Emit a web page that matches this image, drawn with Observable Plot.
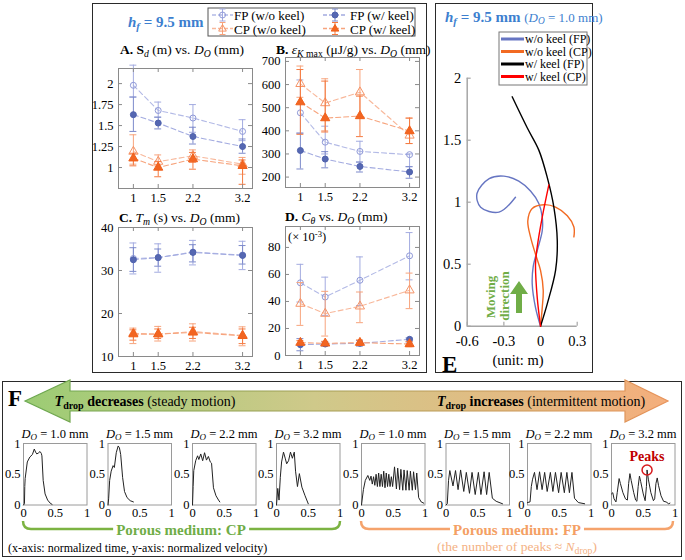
<!DOCTYPE html>
<html><head><meta charset="utf-8">
<script src="https://cdn.jsdelivr.net/npm/d3@7"></script>
<script src="https://cdn.jsdelivr.net/npm/@observablehq/plot@0.6"></script>
<style>
body{margin:0;background:#fff;}
#wrap{position:relative;width:685px;height:560px;overflow:hidden;font-family:"Liberation Serif","Times New Roman",serif;color:#000;background:#fff;}
.box{position:absolute;border:1.6px solid #2a2a2a;box-sizing:border-box;}
.t{position:absolute;white-space:nowrap;line-height:1;}
.t sub{font-size:0.72em;vertical-align:-0.3em;line-height:0;}
.t sup{font-size:0.68em;vertical-align:0.5em;line-height:0;}
.plot{position:absolute;left:0;top:0;}
#wrap svg text{font-family:"Liberation Serif","Times New Roman",serif !important;}
</style></head>
<body><div id="wrap"></div>
<script>
// ---------------- DATA ----------------
const DO = [1, 1.5, 2.2, 3.2];
const seriesNames = ["FP (w/o keel)", "CP (w/o keel)", "FP (w/ keel)", "CP (w/ keel)"];

// A. S_d (m)
const sdFPwo = [1.98, 1.68, 1.59, 1.43], sdFPwoLo = [1.84, 1.60, 1.42, 1.32], sdFPwoHi = [2.22, 1.78, 1.75, 1.57];
const sdCPwo = [1.19, 1.07, 1.14, 1.04], sdCPwoLo = [1.04, 1.02, 1.06, 0.92], sdCPwoHi = [1.39, 1.15, 1.21, 1.12];
const sdFPw  = [1.63, 1.53, 1.37, 1.25], sdFPwLo  = [1.43, 1.46, 1.28, 1.17], sdFPwHi  = [1.84, 1.60, 1.48, 1.34];
const sdCPw  = [1.11, 1.00, 1.10, 1.02], sdCPwLo  = [1.02, 0.89, 0.98, 0.80], sdCPwHi  = [1.17, 1.07, 1.18, 1.09];
const sdTicks = [1, 1.25, 1.5, 1.75, 2];

// B. eps_K max (uJ/g)
const ekFPwo = [478, 351, 311, 297], ekFPwoLo = [390, 300, 265, 245], ekFPwoHi = [620, 420, 355, 300];
const ekCPwo = [603, 520, 567, 380], ekCPwoLo = [545, 400, 455, 345], ekCPwoHi = [680, 625, 665, 455];
const ekFPw  = [315, 278, 246, 222], ekFPwLo  = [235, 240, 222, 195], ekFPwHi  = [390, 310, 265, 245];
const ekCPw  = [524, 455, 464, 399], ekCPwLo  = [385, 395, 375, 345], ekCPwHi  = [665, 615, 550, 455];
const ekTicks = [200, 300, 400, 500, 600, 700];

// C. T_m (s)
const tmFPwo = [32.8, 33.0, 34.3, 33.6], tmFPwoLo = [29.2, 29.6, 31.3, 30.2], tmFPwoHi = [36.4, 36.2, 37.0, 36.8];
const tmCPwo = [15.4, 15.2, 15.8, 14.9], tmCPwoLo = [13.0, 13.6, 13.6, 12.5], tmCPwoHi = [16.6, 17.0, 17.6, 16.9];
const tmFPw  = [32.5, 33.0, 34.2, 33.5], tmFPwLo  = [29.8, 31.0, 32.0, 31.5], tmFPwHi  = [35.3, 35.0, 36.0, 35.8];
const tmCPw  = [15.2, 15.2, 15.6, 14.8], tmCPwLo  = [13.8, 14.2, 14.2, 13.0], tmCPwHi  = [16.2, 16.4, 16.8, 16.4];
const tmTicks = [10, 20, 30, 40];

// D. C_theta (x 10^-3)
const ctFPwo = [53.8, 43.3, 55.7, 73.8], ctFPwoLo = [39.6, 29.7, 37.0, 56.0], ctFPwoHi = [67.5, 58.0, 73.0, 91.0];
const ctCPwo = [38.4, 31.0, 36.4, 48.3], ctCPwoLo = [22.3, 14.4, 24.3, 34.7], ctCPwoHi = [54.0, 47.5, 47.0, 61.0];
const ctFPw  = [8.0, 8.5, 9.0, 12.0],    ctFPwLo  = [3.5, 7.0, 7.0, 10.0],    ctFPwHi  = [12.5, 10.0, 11.0, 13.0];
const ctCPw  = [9.5, 9.0, 9.5, 8.5],     ctCPwLo  = [8.0, 7.5, 7.5, 6.5],     ctCPwHi  = [11.0, 10.5, 11.5, 10.5];
const ctTicks = [0, 20, 40, 60, 80];

// E. trajectories (m)
const trajNames = ["w/o keel (FP)", "w/o keel (CP)", "w/ keel (FP)", "w/ keel (CP)"];
const woFPx = [0, -0.041, -0.068, -0.060, -0.027, 0.014, 0.014, -0.014, -0.082, -0.178, -0.30, -0.42, -0.52, -0.49, -0.34, -0.205];
const woFPy = [0, 0.15, 0.34, 0.48, 0.61, 0.77, 0.88, 0.99, 1.09, 1.17, 1.21, 1.19, 1.07, 0.96, 0.92, 1.04];
const woCPx = [0, 0.014, 0.022, 0, -0.041, -0.082, -0.104, -0.068, 0.027, 0.123, 0.219, 0.273, 0.273];
const woCPy = [0, 0.15, 0.29, 0.45, 0.58, 0.72, 0.85, 0.95, 0.98, 0.96, 0.89, 0.80, 0.72];
const wFPx  = [0, 0.055, 0.123, 0.137, 0.109, 0.055, -0.014, -0.109, -0.232];
const wFPy  = [0, 0.18, 0.45, 0.69, 0.96, 1.20, 1.42, 1.60, 1.85];
const wCPx  = [0, -0.027, -0.041, -0.027, 0.014, 0.068];
const wCPy  = [0, 0.23, 0.50, 0.64, 0.88, 1.14];
const eXTicks = [-0.6, -0.3, 0, 0.3], eYTicks = [0, 0.5, 1, 1.5, 2];

// F. normalized velocity vs normalized time  [t, v]
const fTitles = ["1.0", "1.5", "2.2", "3.2", "1.0", "1.5", "2.2", "3.2"];
const cp10 = [[0,0],[0.015,0.02],[0.02,0.3],[0.026,0.43],[0.06,0.7],[0.1,0.78],[0.14,0.82],[0.17,0.91],[0.19,0.86],[0.21,0.83],[0.24,0.85],[0.26,0.87],[0.28,0.84],[0.29,0.8],[0.31,0.4],[0.34,0.18],[0.38,0.08],[0.42,0.03],[0.45,0.01]];
const cp15 = [[0,0],[0.01,0.1],[0.026,0.4],[0.05,0.55],[0.08,0.64],[0.1,0.61],[0.13,0.85],[0.16,0.96],[0.18,0.93],[0.2,0.82],[0.23,0.45],[0.26,0.22],[0.3,0.12],[0.35,0.07],[0.4,0.05]];
const cp22 = [[0,0],[0.01,0.3],[0.02,0.56],[0.05,0.72],[0.08,0.8],[0.1,0.74],[0.13,0.83],[0.16,0.72],[0.19,0.85],[0.22,0.73],[0.25,0.79],[0.28,0.7],[0.3,0.68],[0.33,0.28],[0.37,0.15],[0.41,0.08],[0.43,0.05]];
const cp32 = [[0,0],[0.02,0.27],[0.04,0.08],[0.06,0.45],[0.08,0.7],[0.11,0.86],[0.14,0.75],[0.16,0.67],[0.19,0.72],[0.22,0.86],[0.25,0.76],[0.28,0.86],[0.3,0.55],[0.33,0.3],[0.36,0.51],[0.4,0.29],[0.45,0.15],[0.5,0.02]];
const fp10 = [[0,0],[0.03,0.25],[0.06,0.4],[0.1,0.48],[0.13,0.4],[0.15,0.47],[0.17,0.34],[0.19,0.46],[0.21,0.32],[0.23,0.5],[0.25,0.3],[0.27,0.52],[0.29,0.3],[0.31,0.5],[0.33,0.3],[0.35,0.55],[0.37,0.28],[0.39,0.52],[0.41,0.3],[0.43,0.5],[0.45,0.3],[0.47,0.46],[0.49,0.3],[0.52,0.62],[0.55,0.26],[0.57,0.6],[0.6,0.25],[0.62,0.58],[0.65,0.24],[0.67,0.57],[0.7,0.24],[0.72,0.56],[0.75,0.24],[0.77,0.55],[0.8,0.24],[0.82,0.54],[0.85,0.25],[0.87,0.52],[0.9,0.12],[0.94,0.05],[0.98,0.03]];
const fp15 = [[0,0],[0.02,0.02],[0.04,0.4],[0.06,0.56],[0.11,0.31],[0.15,0.56],[0.19,0.25],[0.23,0.57],[0.28,0.22],[0.32,0.53],[0.37,0.19],[0.41,0.53],[0.46,0.17],[0.51,0.53],[0.55,0.17],[0.6,0.54],[0.64,0.17],[0.68,0.53],[0.73,0.11],[0.79,0.06],[0.89,0.02]];
const fp22 = [[0,0.04],[0.04,0.05],[0.06,0.3],[0.08,0.42],[0.11,0.53],[0.15,0.25],[0.19,0.54],[0.23,0.25],[0.27,0.53],[0.31,0.22],[0.36,0.53],[0.4,0.22],[0.44,0.53],[0.49,0.2],[0.53,0.53],[0.58,0.2],[0.62,0.53],[0.66,0.2],[0.7,0.53],[0.74,0.11],[0.8,0.04],[0.9,0.02]];
const fp32 = [[0,0.18],[0.02,0.2],[0.04,0.1],[0.07,0.05],[0.09,0.2],[0.12,0.43],[0.14,0.35],[0.18,0.2],[0.22,0.1],[0.25,0.08],[0.27,0.35],[0.29,0.51],[0.31,0.4],[0.35,0.2],[0.38,0.08],[0.4,0.06],[0.42,0.3],[0.44,0.47],[0.46,0.38],[0.5,0.18],[0.53,0.07],[0.55,0.3],[0.56,0.57],[0.58,0.42],[0.62,0.2],[0.66,0.07],[0.68,0.1],[0.7,0.35],[0.72,0.44],[0.74,0.32],[0.78,0.15],[0.82,0.06],[0.86,0.05],[0.9,0.02],[0.92,0.03]];
const fTicks = [0, 0.5, 1];

// ---------------- STYLE ----------------
const SERIF = '"Liberation Serif","Times New Roman",serif';
const wrap = document.getElementById("wrap");
const STY = {
  FPwo: {line:"#b3bae6", err:"#a3abe0", stroke:"#8f99d8", fill:"none", symbol:"circle", r:3},
  CPwo: {line:"#f8b89b", err:"#f7a47d", stroke:"#f59468", fill:"none", symbol:"triangle", r:3.4},
  FPw:  {line:"#a3abe0", err:"#7d8acb", stroke:"#4f62ad", fill:"#5567b2", symbol:"circle", r:3},
  CPw:  {line:"#f7a47d", err:"#f47a40", stroke:"#f0601a", fill:"#f26522", symbol:"triangle", r:3.4}
};
const X_DOM = [0.7, 3.4];
const GRID = "#8a8a8a";

function boxDiv(l, t, w, h) {
  const d = document.createElement("div"); d.className = "box";
  Object.assign(d.style, {left: l + "px", top: t + "px", width: w + "px", height: h + "px"});
  wrap.appendChild(d);
}
function addPlot(svg) { svg.classList.add("plot"); wrap.appendChild(svg); }
function baseStyle(fs) {
  return `position:absolute;left:0px;top:0px;background:transparent;font-family:${SERIF};font-size:${fs}px;overflow:visible;`;
}
function txt(html, x, y, o = {}) {
  const {anchor = "middle", size = 14, color = "#000", weight = "normal", bg = null, rotate = 0} = o;
  const d = document.createElement("div"); d.className = "t"; d.innerHTML = html;
  const tx = anchor === "middle" ? "-50%" : anchor === "end" ? "-100%" : "0";
  Object.assign(d.style, {left: x + "px", top: y + "px", fontSize: size + "px", color, fontWeight: weight,
    transform: `translate(${tx},-50%)` + (rotate ? ` rotate(${rotate}deg)` : "")});
  if (bg) { d.style.background = bg; d.style.padding = "0 3px"; }
  wrap.appendChild(d);
}

boxDiv(92, 3, 335, 370);
boxDiv(435, 3, 158, 370);
boxDiv(2, 381, 680, 176);

// ---------------- PANELS A-D ----------------
function errPanel(box, yDomain, yTicks, S) {
  const [l, t, r, b] = box; const W = r - l, H = b - t;
  const marks = [Plot.frame({stroke: GRID})];
  for (const s of S) {
    const st = STY[s.key];
    const rows = DO.map((x, i) => ({x, y: s.y[i], lo: s.lo[i], hi: s.hi[i], name: s.name}));
    marks.push(
      Plot.line(rows, {x: "x", y: "y", stroke: st.line, strokeWidth: 1.1, strokeDasharray: "5,3"}),
      Plot.ruleX(rows, {x: "x", y1: "lo", y2: "hi", stroke: st.err, strokeWidth: 1}),
      Plot.ruleY(rows, {y: "lo", x1: d => d.x - 0.07, x2: d => d.x + 0.07, stroke: st.err, strokeWidth: 1}),
      Plot.ruleY(rows, {y: "hi", x1: d => d.x - 0.07, x2: d => d.x + 0.07, stroke: st.err, strokeWidth: 1}),
      Plot.dot(rows, {x: "x", y: "y", symbol: st.symbol, r: st.r, fill: st.fill, stroke: st.stroke, strokeWidth: 1})
    );
  }
  marks.push(
    Plot.tickY(yTicks, {y: d => d, stroke: GRID, insetRight: W - 4}),
    Plot.tickY(yTicks, {y: d => d, stroke: GRID, insetLeft: W - 4}),
    Plot.tickX(DO, {x: d => d, stroke: GRID, insetTop: H - 4}),
    Plot.tickX(DO, {x: d => d, stroke: GRID, insetBottom: H - 4}),
    Plot.axisY({ticks: yTicks, tickSize: 0, tickPadding: 5, tickFormat: d => String(d), label: null}),
    Plot.axisX({ticks: DO, tickSize: 0, tickPadding: 5, tickFormat: d => String(d), label: null})
  );
  return Plot.plot({width: 685, height: 560, marginLeft: l, marginTop: t, marginRight: 685 - r, marginBottom: 560 - b,
    x: {domain: X_DOM}, y: {domain: yDomain}, style: baseStyle(12.5), marks});
}
function ser(key, y, lo, hi, name) { return {key, y, lo, hi, name}; }

addPlot(errPanel([118, 68, 252, 188], [0.75, 2.18], sdTicks, [
  ser("FPwo", sdFPwo, sdFPwoLo, sdFPwoHi, seriesNames[0]), ser("CPwo", sdCPwo, sdCPwoLo, sdCPwoHi, seriesNames[1]),
  ser("FPw", sdFPw, sdFPwLo, sdFPwHi, seriesNames[2]), ser("CPw", sdCPw, sdCPwLo, sdCPwHi, seriesNames[3])]));
addPlot(errPanel([285, 57, 419, 187], [155, 717], ekTicks, [
  ser("FPwo", ekFPwo, ekFPwoLo, ekFPwoHi, seriesNames[0]), ser("CPwo", ekCPwo, ekCPwoLo, ekCPwoHi, seriesNames[1]),
  ser("FPw", ekFPw, ekFPwLo, ekFPwHi, seriesNames[2]), ser("CPw", ekCPw, ekCPwLo, ekCPwHi, seriesNames[3])]));
addPlot(errPanel([118, 227, 252, 356], [10, 40], tmTicks, [
  ser("FPwo", tmFPwo, tmFPwoLo, tmFPwoHi, seriesNames[0]), ser("CPwo", tmCPwo, tmCPwoLo, tmCPwoHi, seriesNames[1]),
  ser("FPw", tmFPw, tmFPwLo, tmFPwHi, seriesNames[2]), ser("CPw", tmCPw, tmCPwLo, tmCPwHi, seriesNames[3])]));
addPlot(errPanel([285, 226, 419, 355], [0, 95.5], ctTicks, [
  ser("FPwo", ctFPwo, ctFPwoLo, ctFPwoHi, seriesNames[0]), ser("CPwo", ctCPwo, ctCPwoLo, ctCPwoHi, seriesNames[1]),
  ser("FPw", ctFPw, ctFPwLo, ctFPwHi, seriesNames[2]), ser("CPw", ctCPw, ctCPwLo, ctCPwHi, seriesNames[3])]));

// ---------------- PANEL E ----------------
(function () {
  const l = 466.7, t = 77.7, r = 576.7, b = 325.7; const W = r - l, H = b - t;
  const zip = (xs, ys, name) => xs.map((x, i) => ({x, y: ys[i], name}));
  const trajColors = ["#6675c2", "#f26a22", "#000000", "#ff0000"];
  const sets = [zip(woFPx, woFPy, trajNames[0]), zip(woCPx, woCPy, trajNames[1]), zip(wFPx, wFPy, trajNames[2]), zip(wCPx, wCPy, trajNames[3])];
  const marks = [
    Plot.ruleX([eXTicks[0]], {stroke: "#a6a6a6", strokeWidth: 1.5}),
    Plot.ruleY([eYTicks[0]], {stroke: "#a6a6a6", strokeWidth: 1.5}),
    Plot.tickY(eYTicks, {y: d => d, stroke: "#a6a6a6", strokeWidth: 1.2, insetRight: W - 4}),
    Plot.tickX(eXTicks, {x: d => d, stroke: "#a6a6a6", strokeWidth: 1.2, insetTop: H - 4}),
    ...sets.map((s, i) => Plot.line(s, {x: "x", y: "y", stroke: trajColors[i], strokeWidth: 1.4, curve: "catmull-rom"})),
    Plot.axisY({ticks: eYTicks, tickSize: 0, tickPadding: 6, tickFormat: d => String(d), label: null}),
    Plot.axisX({ticks: eXTicks, tickSize: 0, tickPadding: 10, tickFormat: d => String(d), label: null})
  ];
  addPlot(Plot.plot({width: 685, height: 560, marginLeft: l, marginTop: t, marginRight: 685 - r, marginBottom: 560 - b,
    x: {domain: [eXTicks[0], eXTicks[3]]}, y: {domain: [eYTicks[0], eYTicks[4]]}, style: baseStyle(14.5), marks}));
})();

// ---------------- PANEL F small plots ----------------
const fData = [cp10, cp15, cp22, cp32, fp10, fp15, fp22, fp32];
const fLefts = [23, 107.5, 192, 276, 361, 445.5, 527, 611];
fData.forEach((arr, k) => {
  const l = fLefts[k], r = l + 63.5, t = 443, b = 504.5;
  const rows = arr.map(([tt, v]) => ({t: tt, v}));
  const marks = [
    Plot.frame({stroke: "#9a9a9a"}),
    Plot.line(rows, {x: "t", y: "v", stroke: "#222", strokeWidth: 1}),
    Plot.axisY({ticks: fTicks, tickSize: 0, tickPadding: 3, tickFormat: d => String(d), label: null}),
    Plot.axisX({ticks: fTicks, tickSize: 0, tickPadding: 3, tickFormat: d => String(d), label: null})
  ];
  if (k === 7) {
    const pk = d3.greatest(rows, d => d.v);
    marks.push(Plot.dot([pk], {x: "t", y: "v", r: 5, stroke: "#d7191c", strokeWidth: 1.5, fill: "none"}));
  }
  addPlot(Plot.plot({width: 685, height: 560, marginLeft: l, marginTop: t, marginRight: 685 - r, marginBottom: 560 - b,
    x: {domain: [0, 1]}, y: {domain: [0, 1]}, style: baseStyle(12.5), marks}));
});

// ---------------- DECORATIONS (legend swatches, arrows, brackets) ----------------
function legendSwatch(x, cy, w, st) {
  const m = x + w / 2;
  let s = `<line x1="${x}" y1="${cy}" x2="${x + w}" y2="${cy}" stroke="${st.line}" stroke-width="1.3" stroke-dasharray="4,2"/>`;
  s += `<line x1="${m}" y1="${cy - 6}" x2="${m}" y2="${cy + 6}" stroke="${st.err}"/>`;
  s += `<line x1="${m - 3}" y1="${cy - 6}" x2="${m + 3}" y2="${cy - 6}" stroke="${st.err}"/>`;
  s += `<line x1="${m - 3}" y1="${cy + 6}" x2="${m + 3}" y2="${cy + 6}" stroke="${st.err}"/>`;
  if (st.symbol === "circle") s += `<circle cx="${m}" cy="${cy}" r="3" fill="${st.fill}" stroke="${st.stroke}"/>`;
  else s += `<polygon points="${m},${cy - 4} ${m - 3.8},${cy + 2.6} ${m + 3.8},${cy + 2.6}" fill="${st.fill}" stroke="${st.stroke}"/>`;
  return s;
}
const trajLegColors = ["#6675c2", "#f26a22", "#000000", "#ff0000"];
let deco = `<svg width="685" height="560" style="position:absolute;left:0;top:0;overflow:visible">
<defs>
<linearGradient id="ga" x1="0" x2="1" y1="0" y2="0">
<stop offset="0" stop-color="#9ccc74"/><stop offset="0.45" stop-color="#cfc98a"/><stop offset="1" stop-color="#f4ae7c"/></linearGradient>
<linearGradient id="gs" x1="0" x2="1" y1="0" y2="0">
<stop offset="0" stop-color="#6aa84f"/><stop offset="1" stop-color="#e8935a"/></linearGradient>
</defs>
<rect x="208" y="8" width="207" height="28" fill="#fff" stroke="#555" stroke-width="1"/>
${legendSwatch(212, 15, 21, STY.FPwo)}${legendSwatch(212, 28.5, 21, STY.CPwo)}
${legendSwatch(323, 15, 24, STY.FPw)}${legendSwatch(323, 28.5, 24, STY.CPw)}
<rect x="499" y="32" width="88" height="53" fill="#fff" stroke="#777" stroke-width="1"/>
${[39, 51.5, 64, 76.5].map((y, i) => `<line x1="501" x2="524" y1="${y}" y2="${y}" stroke="${trajLegColors[i]}" stroke-width="3"/>`).join("")}
<polygon points="519,281 528,294 522,294 522,313 516,313 516,294 510,294" fill="#70ad47"/>
<polygon points="25,401 70,380 70,391 625,391 625,380 668,401 625,422 625,411 70,411 70,422" fill="url(#ga)" stroke="url(#gs)" stroke-width="1.2"/>
<path d="M23,521 Q23,529 31,529 L332,529 Q340,529 340,521" fill="none" stroke="#7cb342" stroke-width="2.5"/>
<path d="M361,521 Q361,529 369,529 L665,529 Q673,529 673,521" fill="none" stroke="#f5a36c" stroke-width="2.5"/>
</svg>`;
const decoDiv = document.createElement("div");
decoDiv.innerHTML = deco;
wrap.appendChild(decoDiv);

// ---------------- TEXT ----------------
const DOh = `<i>D</i><sub><i>O</i></sub>`;
txt(`<i>h</i><sub><i>f</i></sub> = 9.5 mm`, 128, 22, {anchor: "start", size: 15, color: "#3d7fcf", weight: "bold"});
txt(seriesNames[0], 234, 15, {anchor: "start", size: 13});
txt(seriesNames[1], 234, 28.5, {anchor: "start", size: 13});
txt(seriesNames[2], 350, 15, {anchor: "start", size: 13});
txt(seriesNames[3], 350, 28.5, {anchor: "start", size: 13});

txt(`<b>A.</b> <b>S</b><sub><i>d</i></sub> (m) vs. ${DOh} (mm)`, 120, 50, {anchor: "start", size: 13.5});
txt(`<b>B.</b> <i>ε</i><sub><i>K</i> max</sub> (μJ/g) vs. ${DOh} (mm)`, 276, 50, {anchor: "start", size: 13.5});
txt(`<b>C.</b> <i>T</i><sub><i>m</i></sub> (s) vs. ${DOh} (mm)`, 119, 218, {anchor: "start", size: 13.5});
txt(`<b>D.</b> <i>C</i><sub><i>θ</i></sub> vs. ${DOh} (mm)`, 285, 217, {anchor: "start", size: 13.5});
txt(`(× 10<sup>-3</sup>)`, 288, 237, {anchor: "start", size: 12.5});

// E texts
txt(`<b><i>h</i><sub><i>f</i></sub> = 9.5 mm</b> <span style="font-size:13px">(${DOh} = 1.0 mm)</span>`, 445, 17, {anchor: "start", size: 15, color: "#3d7fcf"});
trajNames.forEach((n, i) => txt(n, 525, [39, 51.5, 64, 76.5][i], {anchor: "start", size: 12}));
txt("Moving", 490, 297, {size: 13, color: "#70ad47", weight: "bold", rotate: -90});
txt("direction", 504, 296, {size: 13, color: "#70ad47", weight: "bold", rotate: -90});
txt("(unit: m)", 518, 360, {size: 14.5});
txt("E", 442, 364, {anchor: "start", size: 23, weight: "bold"});

// F texts
txt("F", 8, 398, {anchor: "start", size: 23, weight: "bold"});
txt(`<b><i>T</i><sub>drop</sub> decreases</b> (steady motion)`, 145, 402, {size: 14});
txt(`<b><i>T</i><sub>drop</sub> increases</b> (intermittent motion)`, 541, 402, {size: 14});
fTitles.forEach((s, k) => txt(`${DOh} = ${s} mm`, fLefts[k] + 32, 434, {size: 12.5}));
txt("Peaks", 647, 457, {size: 14, color: "#c00000", weight: "bold"});
txt("Porous medium: CP", 181, 530, {size: 15, color: "#70ad47", weight: "bold", bg: "#fff"});
txt("Porous medium: FP", 517, 530, {size: 15, color: "#f4a064", weight: "bold", bg: "#fff"});
txt(`(the number of peaks ≈ <i>N</i><sub>drop</sub>)`, 517, 547, {size: 13.5, color: "#f4b183"});
txt("(x-axis: normalized time, y-axis: normalized velocity)", 8, 548, {anchor: "start", size: 12});
</script>
</body></html>
